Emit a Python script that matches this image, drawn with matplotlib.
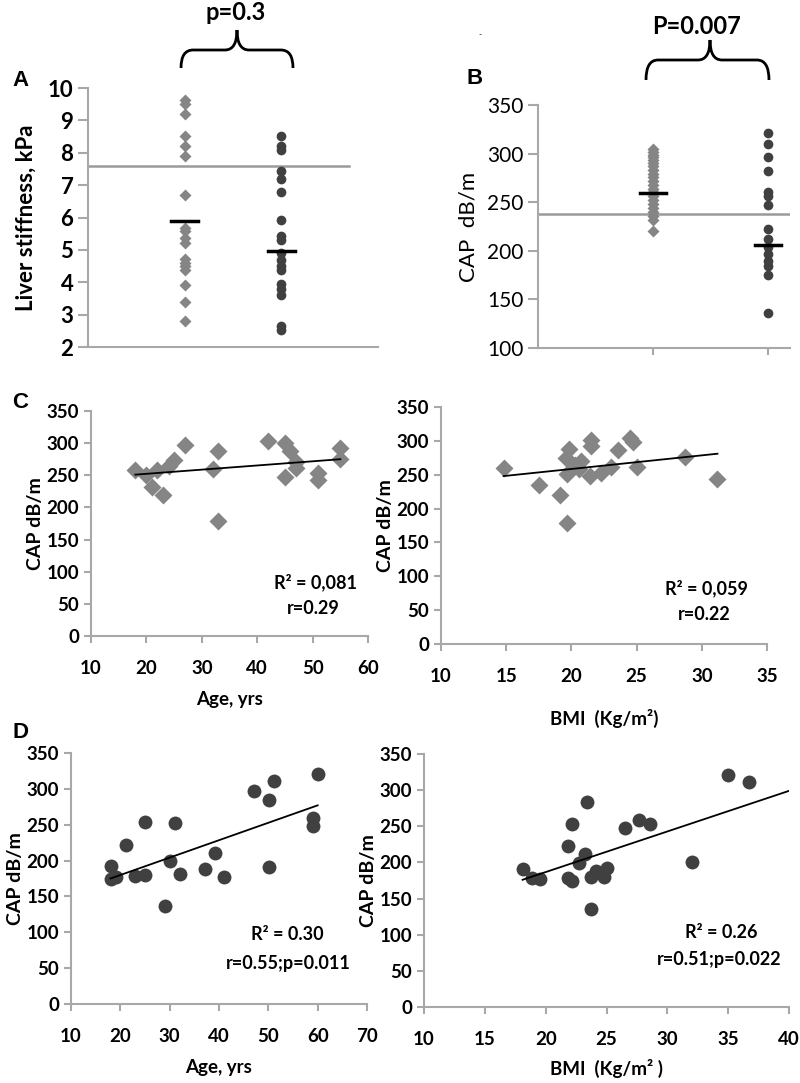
import matplotlib.pyplot as plt
from matplotlib.path import Path
from matplotlib.patches import PathPatch

W, H = 800, 1083

# ---- panel A: liver stiffness (kPa)
a_controls = [9.62, 9.52, 9.2, 8.51, 8.2, 7.89, 6.7, 5.69, 5.57, 5.37, 5.21,
              4.73, 4.6, 4.49, 4.37, 3.9, 3.4, 2.81]
a_patients = [8.51, 8.2, 8.1, 7.43, 7.2, 6.8, 5.91, 5.42, 5.32, 4.9, 4.7,
              4.51, 4.39, 3.95, 3.8, 3.6, 2.66, 2.53]
a_means = [5.88, 4.98]
a_cutoff = 7.6
a_ticks = [2, 3, 4, 5, 6, 7, 8, 9, 10]

# ---- panel B: CAP (dB/m)
b_controls = [305, 302, 299, 296, 293, 290, 287, 283, 279, 276, 272, 268,
              264, 260, 256, 252, 248, 244, 240, 236, 232, 220]
b_patients = [321, 310, 297, 282, 260, 256, 247, 222, 212, 204, 197, 190,
              184, 175, 136]
b_means = [259, 206]
b_cutoff = 238
b_ticks = [100, 150, 200, 250, 300, 350]

# ---- panel C: controls, CAP vs age / BMI
c_age = [18, 20, 21, 22, 23, 24, 25, 27, 32, 33, 33, 42, 45, 45, 46, 47, 47,
         51, 51, 55, 55]
c_age_cap = [259, 250, 232, 258, 219, 264, 274, 297, 260, 287, 179, 303, 300,
             247, 287, 270, 262, 254, 243, 293, 276]
c_age_fit = ([18, 55], [251, 275])

c_bmi = [14.8, 17.5, 19.1, 19.7, 19.6, 19.85, 19.7, 20.3, 20.55, 20.7, 21.45,
         21.5, 21.5, 22.3, 23.0, 23.6, 24.5, 24.75, 25.0, 28.7, 31.2]
c_bmi_cap = [260, 235, 220, 179, 275, 288, 251, 265, 258, 270, 248, 302, 293,
             252, 261, 287, 304, 298, 262, 276, 244]
c_bmi_fit = ([14.8, 31.2], [248, 281])

# ---- panel D: patients, CAP vs age / BMI
d_age = [18.1, 18.1, 19.1, 21.1, 23.0, 25.0, 25.0, 29.0, 30.1, 31.0, 32.1,
         37.1, 39.1, 41.1, 47.1, 50.1, 50.1, 51.1, 59.1, 59.1, 60.1]
d_age_cap = [192, 175, 177, 222, 179, 254, 180, 136, 199, 252, 181, 188, 211,
             177, 297, 284, 191, 311, 259, 248, 321]
d_age_fit = ([18, 60], [175, 277])

d_bmi = [18.1, 18.9, 19.5, 21.8, 22.2, 21.8, 22.2, 22.7, 23.2, 23.4, 23.7,
         23.7, 24.1, 24.8, 25.0, 26.5, 27.7, 28.6, 32.0, 35.0, 36.7]
d_bmi_cap = [191, 179, 177, 223, 253, 178, 175, 199, 211, 283, 180, 136, 188,
             180, 192, 248, 259, 253, 200, 321, 311]
d_bmi_fit = ([18.1, 40], [176, 299])

LIGHT = '#858585'
DARK = '#404040'
AXC = '#a8a8a8'

plt.rcParams['font.family'] = ['Lato', 'DejaVu Sans']

fig = plt.figure(figsize=(W / 100, H / 100), dpi=100)


def box(left, top, right, bottom):
    # pixel box (from top-left) -> figure fraction
    return [left / W, 1 - bottom / H, (right - left) / W, (bottom - top) / H]


def style(ax, bold=True, xticks=True, size=13):
    for s in ['top', 'right']:
        ax.spines[s].set_visible(False)
    for s in ['left', 'bottom']:
        ax.spines[s].set_color(AXC)
        ax.spines[s].set_linewidth(1.5)
    ax.tick_params(colors=AXC, width=1.5, length=7, labelsize=size,
                   labelcolor='black')
    if not xticks:
        ax.tick_params(axis='x', length=0)
    for lab in ax.get_xticklabels() + ax.get_yticklabels():
        lab.set_fontweight('bold' if bold else 'normal')


def ftext(x, y, s, **kw):
    fig.text(x / W, 1 - y / H, s, **kw)


def brace(x0, x1, xm, ybot, ytop, ytip):
    r = 12
    pts = [(x0, ybot), (x0, ytop), (x0 + r, ytop),
           (xm - r, ytop), (xm, ytop), (xm, ytip),
           (xm, ytop), (xm + r, ytop),
           (x1 - r, ytop), (x1, ytop), (x1, ybot)]
    codes = [Path.MOVETO, Path.CURVE3, Path.CURVE3,
             Path.LINETO, Path.CURVE3, Path.CURVE3,
             Path.CURVE3, Path.CURVE3,
             Path.LINETO, Path.CURVE3, Path.CURVE3]
    pts = [(x / W, 1 - y / H) for x, y in pts]
    fig.add_artist(PathPatch(Path(pts, codes), transform=fig.transFigure,
                             fill=False, lw=2, color='black'))


# ---------------- panel A
ax = fig.add_axes(box(88, 88, 378, 347))
ax.axhline(a_cutoff, xmin=0, xmax=0.9, color='#9a9a9a', lw=1.8)
ax.plot([1] * len(a_controls), a_controls, 'D', ms=6, color=LIGHT, mec='none')
ax.plot([2] * len(a_patients), a_patients, 'o', ms=7, color=DARK, mec='none')
for i, m in enumerate(a_means):
    ax.plot([i + 1 - 0.14, i + 1 + 0.14], [m, m], color='black', lw=2.5)
ax.set_xlim(0, 3)
ax.set_ylim(2, 10)
ax.set_yticks(a_ticks)
ax.set_xticks([])
style(ax, size=16)
ax.set_ylabel('Liver stiffness, kPa', fontsize=16, fontweight='bold',
              labelpad=8)
ftext(12, 80, 'A', fontsize=16, fontweight='bold', family='Liberation Sans',
      va='center')
brace(181, 293, 237, 68, 50, 30)
ftext(236, 13, 'p=0.3', fontsize=17, fontweight='bold', ha='center',
      va='center')

# ---------------- panel B
ax = fig.add_axes(box(538, 105, 790, 348))
ax.axhline(b_cutoff, xmin=0, xmax=1.1, color='#9a9a9a', lw=1.8)
ax.plot([1] * len(b_controls), b_controls, 'D', ms=6, color=LIGHT, mec='none')
ax.plot([2] * len(b_patients), b_patients, 'o', ms=7, color=DARK, mec='none')
for i, m in enumerate(b_means):
    ax.plot([i + 1 - 0.11, i + 1 + 0.11], [m, m], color='black', lw=2.5)
ax.set_xlim(0, 2.19)
ax.set_ylim(100, 350)
ax.set_yticks(b_ticks)
ax.set_xticks([1, 2])
ax.set_xticklabels([])
style(ax, bold=False, size=15)
ax.tick_params(axis='x', length=5)
ax.set_ylabel('CAP  dB/m', fontsize=16, labelpad=6)
ftext(467, 78, 'B', fontsize=16, fontweight='bold', family='Liberation Sans',
      va='center')
brace(646, 769, 710, 80, 60, 40)
ftext(697, 26, 'P=0.007', fontsize=17, fontweight='bold', ha='center',
      va='center')
ftext(480, 35, '-', fontsize=6, ha='center', va='center')


def scatter_panel(bx, x, y, fit, xlim, xticks, marker, color, ms, xlabel,
                  notes, notexy, xlabel_y):
    ax = fig.add_axes(box(*bx))
    ax.plot(x, y, marker, ms=ms, color=color, mec='none', ls='none')
    ax.plot(fit[0], fit[1], color='black', lw=1.3)
    ax.set_xlim(*xlim)
    ax.set_ylim(0, 350)
    ax.set_xticks(xticks)
    ax.set_yticks(range(0, 351, 50))
    style(ax, size=13.5)
    ax.tick_params(length=5)
    ax.tick_params(axis='x', pad=12)
    ax.set_ylabel('CAP dB/m', fontsize=14, fontweight='bold', labelpad=2)
    for s, (tx, ty) in zip(notes, notexy):
        ftext(tx, ty, s, fontsize=13, fontweight='bold', ha='center',
              va='center')
    ftext((bx[0] + bx[2]) / 2, xlabel_y, xlabel, fontsize=13.5,
          fontweight='bold', ha='center', va='center')
    return ax


scatter_panel((91, 411, 368, 636), c_age, c_age_cap, c_age_fit, (10, 60),
              range(10, 61, 10), 'D', LIGHT, 9, 'Age, yrs',
              ['R² = 0,081', 'r=0.29'], [(315, 582), (313, 608)], 700)
ftext(12, 403, 'C', fontsize=16, fontweight='bold', family='Liberation Sans',
      va='center')
scatter_panel((441, 407, 767, 644), c_bmi, c_bmi_cap, c_bmi_fit, (10, 35),
              range(10, 36, 5), 'D', LIGHT, 9, 'BMI  (Kg/m²)',
              ['R² = 0,059', 'r=0.22'], [(706, 588), (704, 615)], 718)

scatter_panel((71, 753, 367, 1004), d_age, d_age_cap, d_age_fit, (10, 70),
              range(10, 71, 10), 'o', DARK, 10, 'Age, yrs',
              ['R² = 0.30', 'r=0.55;p=0.011'], [(287, 935), (288, 963)], 1068)
ftext(12, 732, 'D', fontsize=16, fontweight='bold', family='Liberation Sans',
      va='center')
scatter_panel((424, 754, 789, 1007), d_bmi, d_bmi_cap, d_bmi_fit, (10, 40),
              range(10, 41, 5), 'o', DARK, 10, 'BMI  (Kg/m² )',
              ['R² = 0.26', 'r=0.51;p=0.022'], [(721, 933), (719, 960)], 1068)

fig.savefig('out.png', dpi=100)
